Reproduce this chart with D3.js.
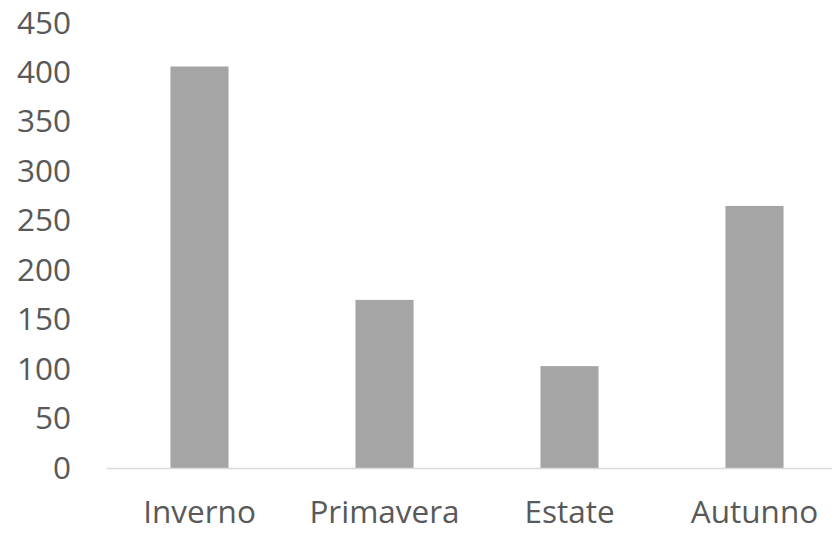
<!DOCTYPE html>
<html>
<head>
<meta charset="utf-8">
<script src="https://cdn.jsdelivr.net/npm/d3@7"></script>
<style>
  html, body { margin: 0; padding: 0; background: #fff; overflow: hidden; }
  svg { display: block; }
</style>
</head>
<body>
<div id="chart"></div>
<script>
// seasons and values
const seasons = ["Inverno", "Primavera", "Estate", "Autunno"];
const values = [406, 170, 103, 265];
const yTicks = [0, 50, 100, 150, 200, 250, 300, 350, 400, 450];

const width = 832, height = 533;
const fontFamily = "'Open Sans', sans-serif";
const fontSize = 31.5;
const textColor = "#595959";

const svg = d3.select("#chart").append("svg")
  .attr("width", width)
  .attr("height", height);

const x = d3.scaleBand()
  .domain(seasons)
  .range([107, 847])
  .paddingInner(0.686)
  .paddingOuter(0.343);

const y = d3.scaleLinear()
  .domain([0, 450])
  .range([468, 23]);

// bars
svg.selectAll("rect.bar")
  .data(seasons.map((s, i) => ({ season: s, value: values[i] })))
  .enter()
  .append("rect")
  .attr("class", "bar")
  .attr("x", d => x(d.season))
  .attr("y", d => y(d.value))
  .attr("width", x.bandwidth())
  .attr("height", d => y(0) - y(d.value))
  .attr("fill", "#a5a5a5");

// baseline
svg.append("line")
  .attr("x1", 107).attr("x2", width)
  .attr("y1", y(0) + 0.5).attr("y2", y(0) + 0.5)
  .attr("stroke", "#d9d9d9")
  .attr("stroke-width", 1.5);

// y labels
const yAxis = svg.append("g")
  .attr("transform", "translate(71,0)")
  .call(d3.axisLeft(y).tickValues(yTicks).tickSize(0).tickPadding(0));
yAxis.select(".domain").remove();
yAxis.selectAll("text")
  .attr("font-family", fontFamily)
  .attr("font-size", fontSize)
  .attr("fill", textColor);

// x labels (kept a touch high so the text box stays inside the page)
const xAxis = svg.append("g")
  .attr("transform", `translate(0,${y(0)})`)
  .call(d3.axisBottom(x).tickSize(0).tickPadding(0));
xAxis.select(".domain").remove();
xAxis.selectAll("text")
  .attr("dy", null)
  .attr("y", 55)
  .attr("font-family", fontFamily)
  .attr("font-size", fontSize)
  .attr("fill", textColor);
</script>
</body>
</html>
